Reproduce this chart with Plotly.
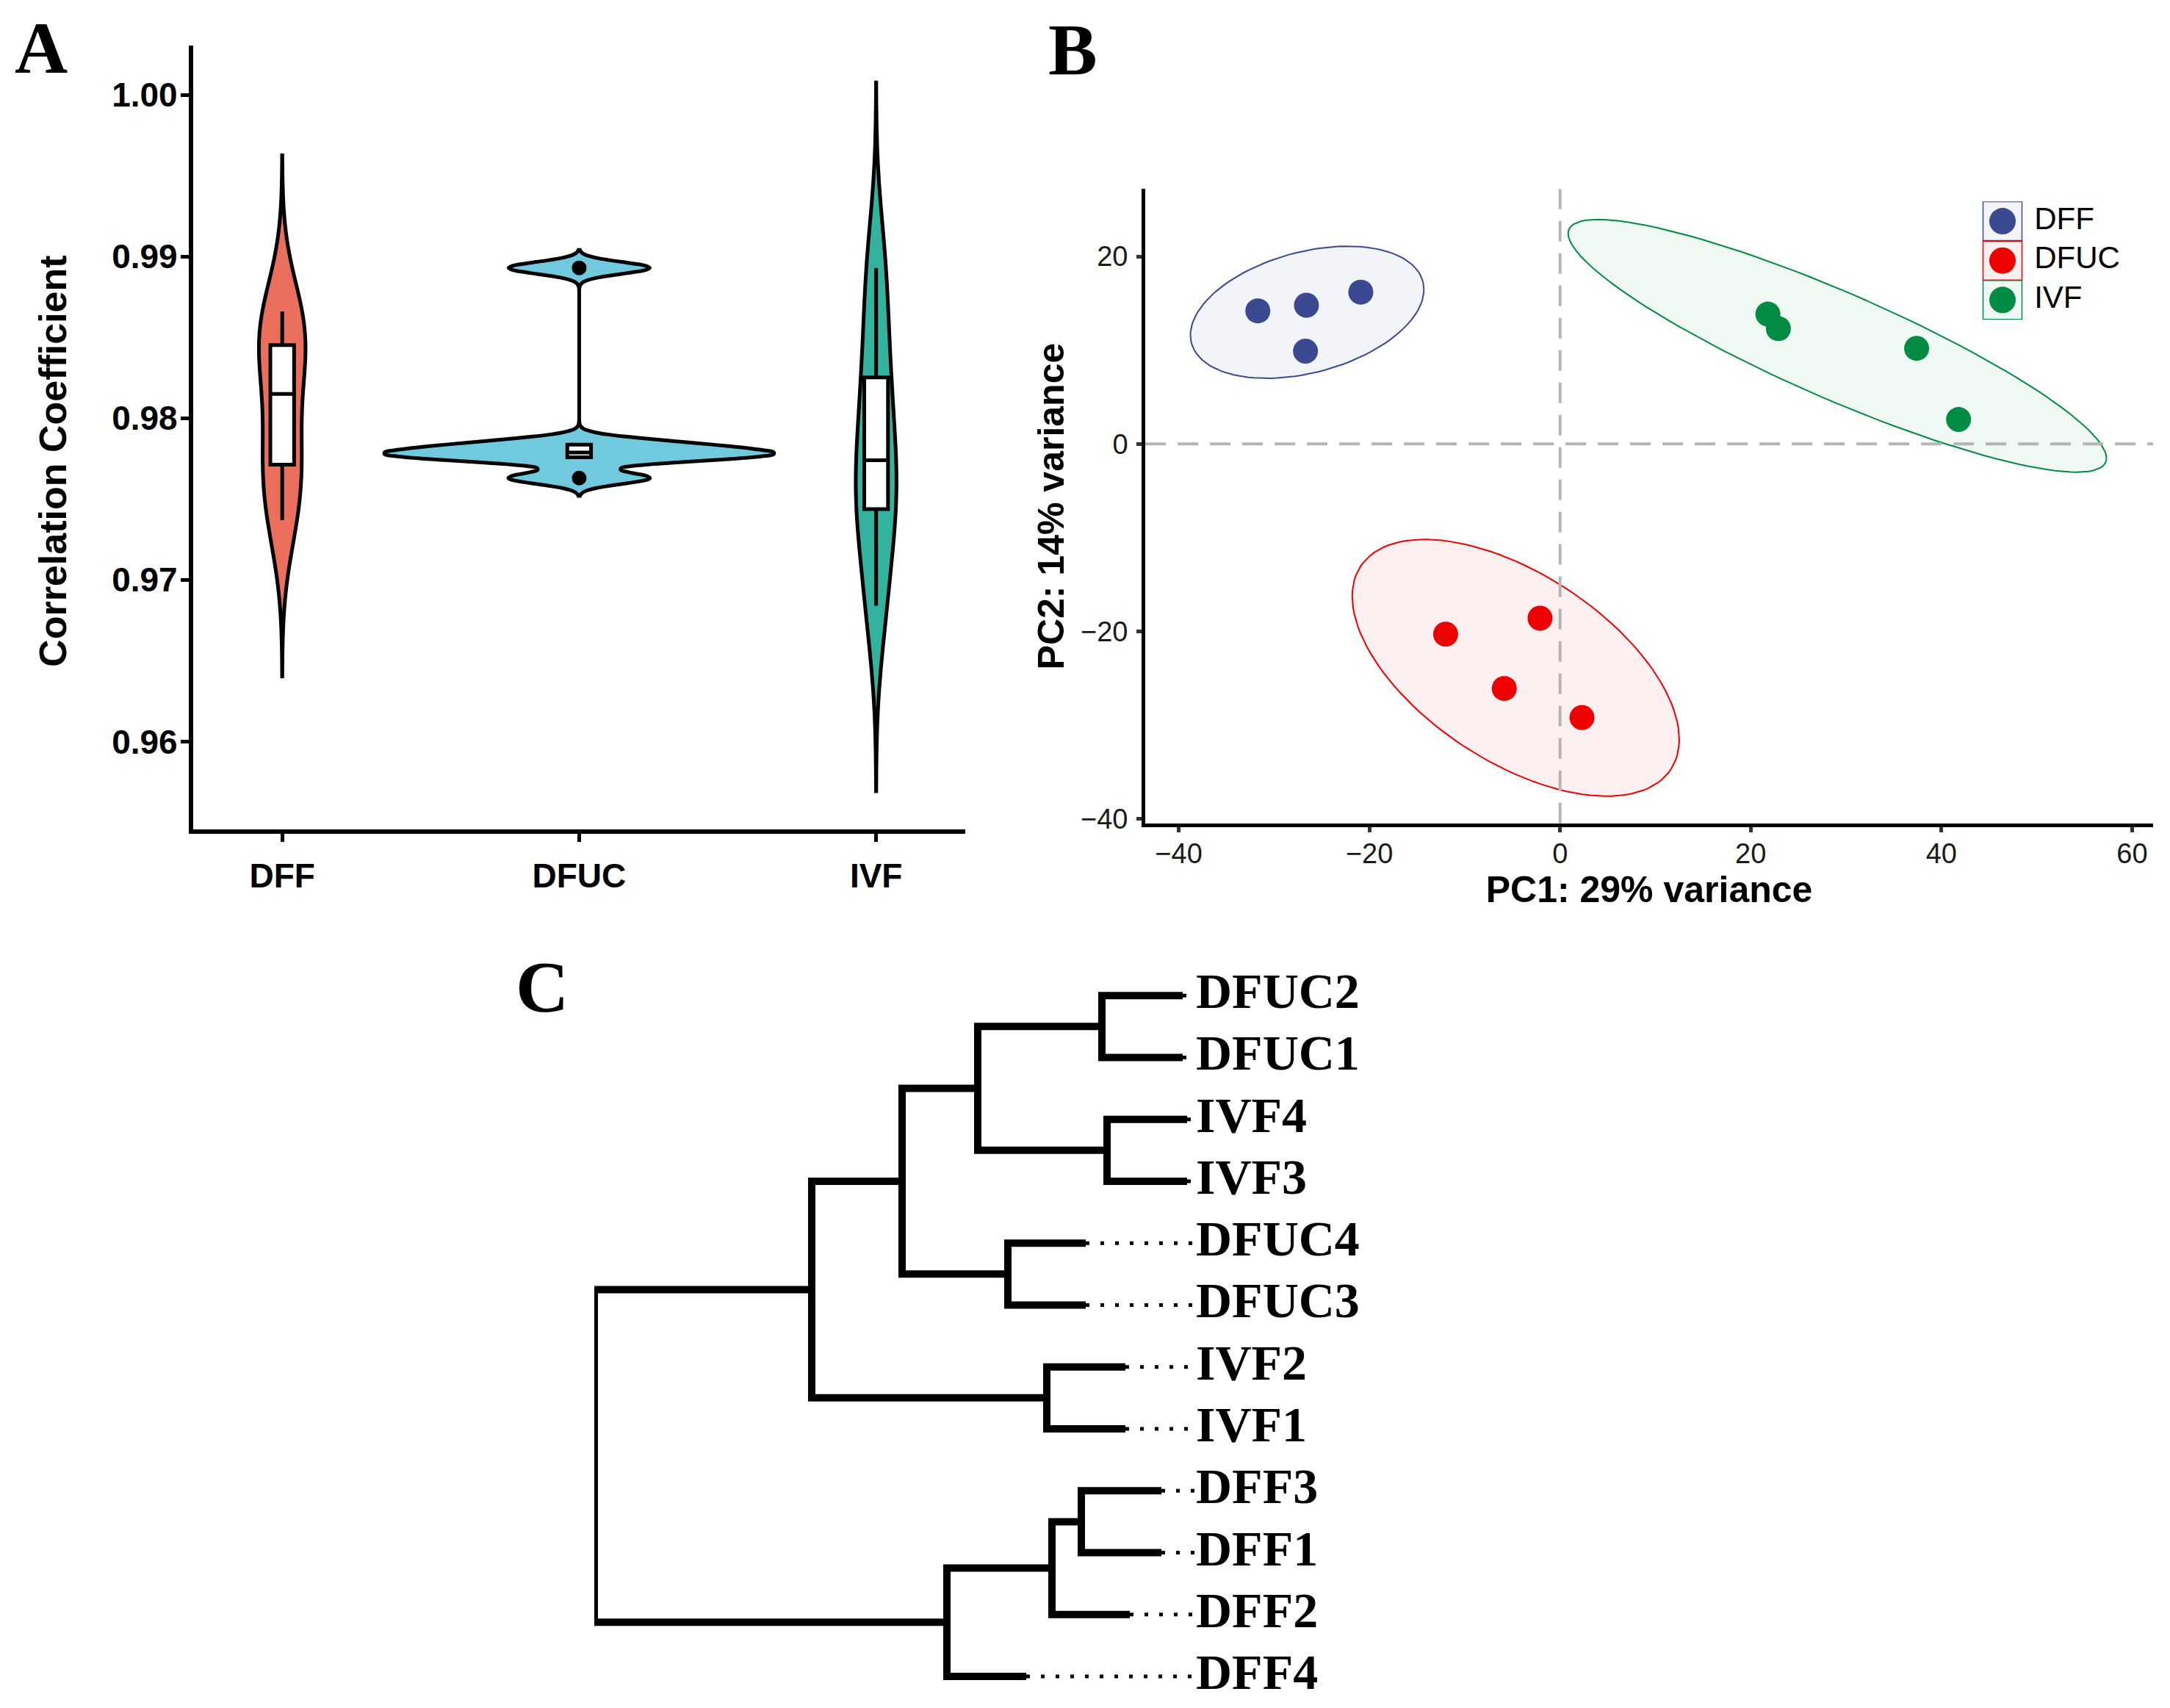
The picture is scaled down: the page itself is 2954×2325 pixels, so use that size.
import numpy as np
import plotly.graph_objects as go

# ---------------- Panel A: pairwise correlation coefficients ----------------
GROUPS = ["DFF", "DFUC", "IVF"]
CORR_DFF = [0.9737, 0.9765, 0.9790, 0.9840, 0.9847, 0.9866]
CORR_DFUC = [0.9763, 0.97752, 0.97775, 0.97801, 0.97848, 0.9893]
CORR_IVF = [0.9684, 0.9740, 0.9755, 0.9793, 0.9836, 0.9893]
A_YTICKS = [0.96, 0.97, 0.98, 0.99, 1.00]

# ---------------- Panel B: PCA scores ----------------
PC1_DFF = [-31.7, -26.6, -20.9, -26.7]
PC2_DFF = [14.2, 14.8, 16.2, 9.9]
PC1_DFUC = [-12.0, -2.1, -5.85, 2.3]
PC2_DFUC = [-20.3, -18.6, -26.1, -29.2]
PC1_IVF = [21.8, 22.9, 37.4, 41.8]
PC2_IVF = [13.85, 12.3, 10.2, 2.6]
B_XTICKS = [-40, -20, 0, 20, 40, 60]
B_YTICKS = [-40, -20, 0, 20]

# ---------------- Panel C: clustering tree ----------------
LEAVES = ["DFUC2", "DFUC1", "IVF4", "IVF3", "DFUC4", "DFUC3",
          "IVF2", "IVF1", "DFF3", "DFF1", "DFF2", "DFF4"]
TIP_DEPTH = [80.1, 80.1, 80.7, 80.7, 66.9, 66.9, 72.3, 72.3, 77.2, 77.2, 72.9, 58.8]
MERGES = [  # (node, left child, right child, node depth)
    ("n1", "DFUC2", "DFUC1", 69.1),
    ("n2", "IVF4", "IVF3", 69.8),
    ("n3", "DFUC4", "DFUC3", 56.3),
    ("n4", "IVF2", "IVF1", 61.6),
    ("n5", "DFF3", "DFF1", 66.3),
    ("n6", "n5", "DFF2", 62.3),
    ("n7", "n6", "DFF4", 48.0),
    ("n8", "n1", "n2", 52.2),
    ("n9", "n8", "n3", 41.9),
    ("n10", "n9", "n4", 29.6),
    ("root", "n10", "n7", 0.0),
]

# ---------------- styles ----------------
VIOLIN_FILL = ["rgba(230,75,53,0.8)", "rgba(77,187,213,0.8)", "rgba(0,160,135,0.8)"]
VIOLIN_WIDTH = [0.156, 1.31, 0.137]
PCA_COLORS = ["#3B4992", "#EE0000", "#008B45"]
PCA_FILL = ["rgba(59,73,146,0.06)", "rgba(238,0,0,0.06)", "rgba(0,139,69,0.06)"]
ELLIPSE_LEVEL = 0.9
SANS = "Liberation Sans, Arial, sans-serif"
SERIF = "Liberation Serif, Times New Roman, serif"


def nrd0(v):
    v = np.asarray(v, float)
    q75, q25 = np.percentile(v, [75, 25])
    lo = min(v.std(ddof=1), (q75 - q25) / 1.34)
    return 0.9 * lo * len(v) ** -0.2


def box_stats(v):
    v = np.asarray(v, float)
    q1, med, q3 = np.percentile(v, [25, 50, 75])
    iqr = q3 - q1
    inside = v[(v >= q1 - 1.5 * iqr) & (v <= q3 + 1.5 * iqr)]
    out = v[(v < q1 - 1.5 * iqr) | (v > q3 + 1.5 * iqr)]
    return q1, med, q3, inside.min(), inside.max(), out


def cov_trob(X, nu=5, maxit=25, tol=0.01):
    X = np.asarray(X, float)
    n, p = X.shape
    loc = X.mean(0)
    w = np.ones(n)
    Xc = X - loc
    for _ in range(maxit):
        w0 = w
        Xc = X - loc
        M = np.sqrt(w / w.sum())[:, None] * Xc
        _, d, Vt = np.linalg.svd(M, full_matrices=False)
        wX = Xc @ Vt.T @ np.diag(1.0 / d)
        Q = (wX ** 2).sum(1)
        w = (nu + p) / (nu + Q)
        loc = (w[:, None] * X).sum(0) / w.sum()
        if np.all(np.abs(w - w0) < tol):
            break
    S = np.sqrt(w)[:, None] * Xc
    return S.T @ S / n, loc


def ellipse_xy(x, y, level, segments=120):
    X = np.column_stack([x, y])
    cov, center = cov_trob(X)
    dfd = len(x) - 1
    f = dfd / 2.0 * ((1 - level) ** (-2.0 / dfd) - 1)  # qf(level, 2, dfd)
    radius = np.sqrt(2 * f)
    R = np.linalg.cholesky(cov).T
    ang = np.linspace(0, 2 * np.pi, segments + 1)
    unit = np.column_stack([np.cos(ang), np.sin(ang)])
    pts = center + radius * (unit @ R)
    return pts[:, 0], pts[:, 1]


fig = go.Figure()

# ---- Panel A traces
corr = [CORR_DFF, CORR_DFUC, CORR_IVF]
for g, vals, fc, wd in zip(GROUPS, corr, VIOLIN_FILL, VIOLIN_WIDTH):
    bw = nrd0(vals)
    fig.add_trace(go.Violin(
        x=[g] * len(vals), y=vals, bandwidth=bw, spanmode="manual",
        span=[min(vals) - 3 * bw, max(vals) + 3 * bw],
        scalemode="width", width=wd, fillcolor=fc,
        line=dict(color="black", width=5), points=False,
        box_visible=False, meanline_visible=False, showlegend=False,
        xaxis="x", yaxis="y", hoverinfo="skip"))
for g, vals in zip(GROUPS, corr):
    q1, med, q3, lo, hi, out = box_stats(vals)
    fig.add_trace(go.Box(
        x=[g], q1=[q1], median=[med], q3=[q3], lowerfence=[lo], upperfence=[hi],
        width=0.08, fillcolor="white", line=dict(color="black", width=5),
        whiskerwidth=0, boxpoints=False, showlegend=False, xaxis="x", yaxis="y"))
    if len(out):
        fig.add_trace(go.Scatter(
            x=[g] * len(out), y=out, mode="markers",
            marker=dict(color="black", size=20), showlegend=False,
            xaxis="x", yaxis="y"))

# ---- Panel B traces
pcs = [(PC1_DFF, PC2_DFF), (PC1_DFUC, PC2_DFUC), (PC1_IVF, PC2_IVF)]
for (px, py), col, fc in zip(pcs, PCA_COLORS, PCA_FILL):
    ex, ey = ellipse_xy(px, py, ELLIPSE_LEVEL)
    fig.add_trace(go.Scatter(
        x=ex, y=ey, mode="lines", fill="toself", fillcolor=fc,
        line=dict(color=col, width=2), showlegend=False,
        xaxis="x2", yaxis="y2", hoverinfo="skip"))
for (px, py), col, g in zip(pcs, PCA_COLORS, GROUPS):
    fig.add_trace(go.Scatter(
        x=px, y=py, mode="markers", name=g,
        marker=dict(color=col, size=34), showlegend=False,
        xaxis="x2", yaxis="y2"))

# legend (drawn on its own small axes)
idx = list(range(len(GROUPS)))
fig.add_trace(go.Scatter(
    x=[0] * len(GROUPS), y=idx, mode="markers",
    marker=dict(symbol="square", size=53, color=PCA_FILL,
                line=dict(color=PCA_COLORS, width=1.5)),
    showlegend=False, xaxis="x4", yaxis="y4", hoverinfo="skip"))
fig.add_trace(go.Scatter(
    x=[0] * len(GROUPS), y=idx, mode="markers",
    marker=dict(symbol="circle", size=36, color=PCA_COLORS),
    showlegend=False, xaxis="x4", yaxis="y4", hoverinfo="skip"))
fig.add_trace(go.Scatter(
    x=[0.72] * len(GROUPS), y=idx, mode="text", text=GROUPS,
    textposition="middle right", cliponaxis=False,
    textfont=dict(family=SANS, size=42, color="black"),
    showlegend=False, xaxis="x4", yaxis="y4", hoverinfo="skip"))

# ---- Panel C traces
pos = {name: (d, i) for i, (name, d) in enumerate(zip(LEAVES, TIP_DEPTH))}
tx, ty = [], []
for node, left, right, depth in MERGES:
    dl, yl = pos[left]
    dr, yr = pos[right]
    tx += [dl, depth, depth, dr, None]
    ty += [yl, yl, yr, yr, None]
    pos[node] = (depth, (yl + yr) / 2.0)
fig.add_trace(go.Scatter(
    x=tx, y=ty, mode="lines", line=dict(color="black", width=10),
    showlegend=False, xaxis="x3", yaxis="y3", hoverinfo="skip"))

LEADER_END = 81.9
lx, ly = [], []
for i, d in enumerate(TIP_DEPTH):
    lx += [d, LEADER_END, None]
    ly += [i, i, None]
fig.add_trace(go.Scatter(
    x=lx, y=ly, mode="lines", line=dict(color="black", width=5, dash="5px,15px"),
    showlegend=False, xaxis="x3", yaxis="y3", hoverinfo="skip"))
fig.add_trace(go.Scatter(
    x=[LEADER_END] * len(LEAVES), y=list(range(len(LEAVES))), mode="text",
    text=LEAVES, textposition="middle right", cliponaxis=False,
    textfont=dict(family=SERIF, size=68, color="black", weight="bold"),
    showlegend=False, xaxis="x3", yaxis="y3", hoverinfo="skip"))

# ---------------- layout ----------------
axis_common = dict(showgrid=False, zeroline=False, showline=True, linecolor="black")
fig.update_layout(
    width=2954, height=2325, margin=dict(l=0, r=0, t=0, b=0),
    paper_bgcolor="white", plot_bgcolor="rgba(0,0,0,0)",
    violinmode="overlay", boxmode="overlay", showlegend=False,
    xaxis=dict(**axis_common, domain=[0.0890, 0.4448], anchor="y", type="category",
               categoryorder="array", categoryarray=GROUPS, range=[-0.3, 2.3],
               linewidth=6, ticks="outside", ticklen=11, tickwidth=5, tickcolor="black",
               ticklabelstandoff=7,
               tickfont=dict(family=SANS, size=46, color="black", weight="bold")),
    yaxis=dict(**axis_common, domain=[0.5114, 0.9733], anchor="x",
               range=[0.95458, 1.00307], tickvals=A_YTICKS, tickformat=".2f",
               linewidth=6, ticks="outside", ticklen=11, tickwidth=5, tickcolor="black",
               ticklabelstandoff=-5,
               tickfont=dict(family=SANS, size=46, color="black", weight="bold")),
    xaxis2=dict(**axis_common, domain=[0.5278, 0.9922], anchor="y2",
                range=[-43.5, 62.2], tickvals=B_XTICKS,
                linewidth=5, ticks="outside", ticklen=7, tickwidth=5, tickcolor="#333333",
                ticklabelstandoff=-3,
                tickfont=dict(family=SANS, size=38, color="#1a1a1a"),
                title=dict(text="PC1: 29% variance", standoff=12,
                           font=dict(family=SANS, size=50, color="black", weight="bold"))),
    yaxis2=dict(**axis_common, domain=[0.5148, 0.8886], anchor="x2",
                range=[-40.5, 27.2], tickvals=B_YTICKS,
                linewidth=5, ticks="outside", ticklen=7, tickwidth=5, tickcolor="#333333",
                ticklabelstandoff=4,
                tickfont=dict(family=SANS, size=38, color="#1a1a1a"),
                title=dict(text="PC2: 14% variance", standoff=8,
                           font=dict(family=SANS, size=50, color="black", weight="bold"))),
    xaxis3=dict(domain=[0.27387, 0.55247], anchor="y3", range=[0, 82.3], visible=False),
    yaxis3=dict(domain=[0.0, 0.43157], anchor="x3", range=[11.332, -0.5], visible=False),
    xaxis4=dict(domain=[(2726 - 60) / 2954, (2726 + 60) / 2954], anchor="y4",
                range=[-1, 1], visible=False),
    yaxis4=dict(domain=[0.81161, 0.88129], anchor="x4", range=[2.5, -0.5], visible=False),
    shapes=[
        dict(type="line", xref="x2", yref="y2 domain", x0=0, x1=0, y0=0, y1=1,
             line=dict(color="#B5B5B5", width=4, dash="28px,16px"), layer="above"),
        dict(type="line", xref="x2 domain", yref="y2", x0=0, x1=1, y0=0, y1=0,
             line=dict(color="#B5B5B5", width=4, dash="28px,16px"), layer="above"),
    ],
    annotations=[
        dict(text="Correlation Coefficient", x=72 / 2954, y=1 - 632 / 2325,
             xref="paper", yref="paper", xanchor="center", yanchor="middle",
             textangle=-90, showarrow=False,
             font=dict(family=SANS, size=52, color="black", weight="bold")),
        dict(text="A", x=0.0061, y=0.9716, xref="paper", yref="paper",
             xanchor="left", yanchor="middle", showarrow=False,
             font=dict(family=SERIF, size=100, color="black", weight="bold")),
        dict(text="B", x=0.4824, y=0.9708, xref="paper", yref="paper",
             xanchor="left", yanchor="middle", showarrow=False,
             font=dict(family=SERIF, size=100, color="black", weight="bold")),
        dict(text="C", x=0.2370, y=0.4185, xref="paper", yref="paper",
             xanchor="left", yanchor="middle", showarrow=False,
             font=dict(family=SERIF, size=100, color="black", weight="bold")),
    ],
)

fig.write_html("out.html", config={"displayModeBar": False},
               post_script="document.body.style.margin='0';")
